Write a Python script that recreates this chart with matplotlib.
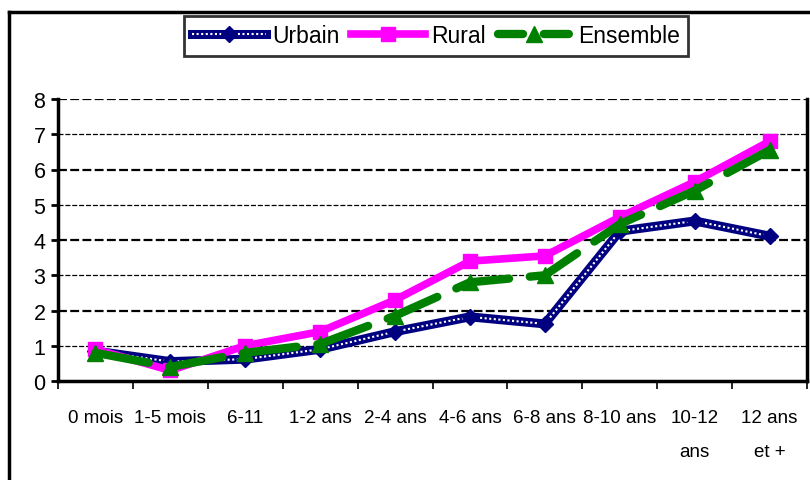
import numpy as np
import matplotlib.pyplot as plt
from matplotlib.lines import Line2D

plt.rcParams['font.family'] = ['Liberation Sans', 'DejaVu Sans']

# Données
categories = ['0 mois', '1-5 mois', '6-11', '1-2 ans', '2-4 ans', '4-6 ans',
              '6-8 ans', '8-10 ans', '10-12\nans', '12 ans\net +']
urbain = [0.85, 0.55, 0.62, 0.9, 1.4, 1.82, 1.62, 4.25, 4.54, 4.11]
rural = [0.9, 0.3, 1.0, 1.4, 2.3, 3.4, 3.55, 4.65, 5.65, 6.8]
ensemble = [0.8, 0.4, 0.8, 1.05, 1.85, 2.8, 3.0, 4.45, 5.4, 6.55]

fig = plt.figure(figsize=(8.1, 4.81), dpi=100)
ax = fig.add_axes([58 / 810, 1 - 382 / 481, 749 / 810, 282 / 481])

x = np.arange(len(categories))

# lignes de grille
for v in range(1, 9):
    lw = 1.6 if v % 2 == 0 else 0.9
    ax.axhline(v, color='black', lw=lw, ls=(0, (4, 1.5)), zorder=1)

# Urbain : ligne bleu foncé à motif pointillé
ax.plot(x, urbain, color='#000080', lw=6.5, zorder=3, solid_capstyle='round')
ax.plot(x, urbain, color='white', lw=1.5, ls=(0, (1, 1.2)), zorder=3.1)
ax.plot(x, urbain, ls='none', marker='D', ms=8, color='#000080', zorder=3.2)

ax.plot(x, rural, color='#ff00ff', lw=5.5, marker='s', ms=10, zorder=4)
ax.plot(x, ensemble, color='#008000', lw=6, ls=(0, (6.5, 2.5)), marker='^', ms=12,
        zorder=5, dash_capstyle='round')

ax.set_xlim(-0.5, len(categories) - 0.5)
ax.set_ylim(0, 8)
ax.set_yticks(range(0, 9))
ax.set_xticks(x)
ax.set_xticklabels(categories, fontsize=13.5, linespacing=2.3)
ax.set_xticks(np.arange(-0.5, len(categories), 1), minor=True)
ax.tick_params(axis='x', which='major', length=0, pad=20)
ax.tick_params(axis='x', which='minor', length=6, width=1.2)
ax.tick_params(axis='y', length=5, width=2, labelsize=15.5, pad=4)

for s in ['left', 'bottom', 'right']:
    ax.spines[s].set_linewidth(2.5)
ax.spines['top'].set_visible(False)

# légende
h_urb = (Line2D([], [], color='#000080', lw=6.5),
         Line2D([], [], color='white', lw=1.5, ls=(0, (1, 1.2))),
         Line2D([], [], ls='none', marker='D', ms=8, color='#000080'))
h_rur = Line2D([], [], color='#ff00ff', lw=5.5, marker='s', ms=10)
h_ens = Line2D([], [], color='#008000', lw=6, ls=(0, (3, 2.5)), marker='^', ms=12,
               dash_capstyle='round')
leg = fig.legend([h_urb, h_rur, h_ens], ['Urbain', 'Rural', 'Ensemble'],
                 loc='center', bbox_to_anchor=(436 / 810, 1 - 37 / 481), ncol=3,
                 fontsize=16.5, frameon=True, fancybox=False, edgecolor='black',
                 handlelength=3.2, handletextpad=0.3, columnspacing=0.5,
                 borderpad=0.35)
leg.get_frame().set_linewidth(2)

# cadre extérieur
fig.add_artist(Line2D([9 / 810, 9 / 810], [0, 1 - 13 / 481], color='black', lw=2.5,
                      transform=fig.transFigure))
fig.add_artist(Line2D([9 / 810, 1], [1 - 13 / 481, 1 - 13 / 481], color='black', lw=2.5,
                      transform=fig.transFigure))

fig.savefig('out.png', dpi=100)
